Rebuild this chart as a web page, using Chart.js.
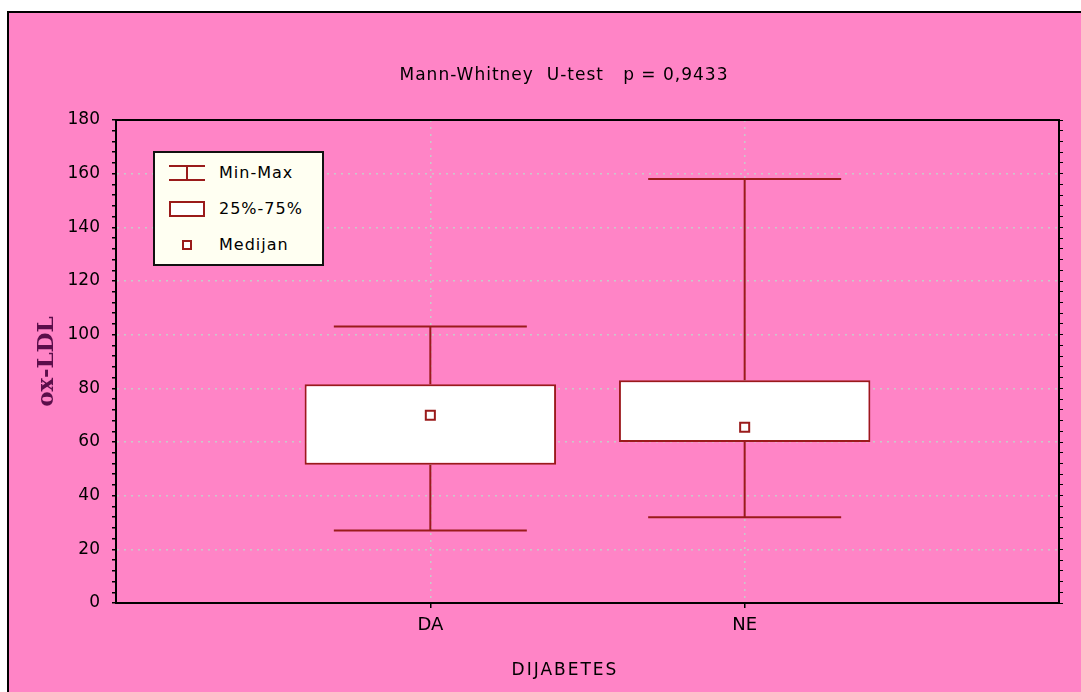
<!DOCTYPE html>
<html>
<head>
<meta charset="utf-8">
<script src="https://cdn.jsdelivr.net/npm/chart.js@4"></script>
<style>
  html, body { margin: 0; background: #ffffff; width: 1081px; height: 692px; overflow: hidden; font-family: "DejaVu Sans", sans-serif; }
  #panel { position: absolute; left: 7px; top: 11px; width: 1090px; height: 700px; background: #ff84c6;
           border-top: 2px solid #000; border-left: 2px solid #000; }
  #chartBox { position: absolute; left: 0; top: 0; width: 1072px; height: 679px; }
  .txt { position: absolute; color: #000; white-space: pre; transform: translateX(-50%); }
  #legend { position: absolute; left: 144px; top: 138px; width: 167px; height: 111px; background: #fffff2;
            border: 2px solid #111; }
  .row { position: absolute; left: 0; height: 20px; font-size: 16px; letter-spacing: 1px; }
  .row svg { position: absolute; left: 12px; top: 0; }
  .row span { position: absolute; left: 64px; top: 0px; white-space: pre; }
</style>
</head>
<body>
<div id="panel">
  <div id="chartBox"><canvas id="myChart" width="1072" height="679"></canvas></div>
  <div class="txt" id="title" style="left:555px; top:51px; font-size:17px; letter-spacing:1px;">Mann-Whitney  U-test   p = 0,9433</div>
  <div class="txt" id="xTitle" style="left:556px; top:646px; font-size:17px; letter-spacing:2px;">DIJABETES</div>
  <div id="legend">
    <div class="row" style="top:10px;">
      <svg width="40" height="20"><path d="M2 3 H38 M2 17 H38 M20 3 V17" stroke="#9a1b1b" stroke-width="2" fill="none"/></svg>
      <span>Min-Max</span>
    </div>
    <div class="row" style="top:46px;">
      <svg width="40" height="20"><rect x="3" y="3" width="34" height="14" fill="#fff" stroke="#9a1b1b" stroke-width="2"/></svg>
      <span>25%-75%</span>
    </div>
    <div class="row" style="top:82px;">
      <svg width="40" height="20"><rect x="16" y="6" width="8" height="8" fill="#fff" stroke="#9a1b1b" stroke-width="2"/></svg>
      <span>Medijan</span>
    </div>
  </div>
</div>
<script>
const categories = ['DA', 'NE'];
const minVals = [27, 32];
const q1Vals = [51.5, 60];
const medianVals = [70, 65.5];
const q3Vals = [81.5, 83];
const maxVals = [103, 158];
const yTicks = [0, 20, 40, 60, 80, 100, 120, 140, 160, 180];

const boxColor = '#9a1b1b';
const capHalf = 0.307;

// build datasets from the arrays
var boxData = [], whiskerData = [], capData = [], medianData = [];
for (var i = 0; i < categories.length; i++) {
    var x = i + 1;
    boxData.push({x: x, y: [q1Vals[i], q3Vals[i]]});
    whiskerData.push({x: x, y: minVals[i]}, {x: x, y: q1Vals[i]}, {x: x, y: null});
    whiskerData.push({x: x, y: q3Vals[i]}, {x: x, y: maxVals[i]}, {x: x, y: null});
    capData.push({x: x - capHalf, y: minVals[i]}, {x: x + capHalf, y: minVals[i]}, {x: x, y: null});
    capData.push({x: x - capHalf, y: maxVals[i]}, {x: x + capHalf, y: maxVals[i]}, {x: x, y: null});
    medianData.push({x: x, y: medianVals[i]});
}

const ctx = document.getElementById('myChart');
const dotted = '#c9c9c9';

const myChart = new Chart(ctx, {
    type: 'scatter',
    data: {
        datasets: [{
            type: 'scatter',
            data: medianData,
            pointStyle: 'rect',
            pointRadius: 6.4,
            pointBorderWidth: 2,
            pointBackgroundColor: '#ffffff',
            pointBorderColor: boxColor,
            order: 0
        }, {
            type: 'bar',
            data: boxData,
            backgroundColor: '#ffffff',
            borderColor: boxColor,
            borderWidth: 2,
            borderSkipped: false,
            categoryPercentage: 1,
            barPercentage: 0.8,
            order: 1
        }, {
            type: 'line',
            data: whiskerData,
            borderColor: boxColor,
            borderWidth: 2,
            pointRadius: 0,
            spanGaps: false,
            order: 2
        }, {
            type: 'line',
            data: capData,
            borderColor: boxColor,
            borderWidth: 2,
            pointRadius: 0,
            spanGaps: false,
            order: 2
        }]
    },
    options: {
        responsive: false,
        animation: false,
        layout: { padding: 0 },
        plugins: {
            legend: { display: false },
            tooltip: { enabled: false },
            title: { display: false }
        },
        scales: {
            x: {
                type: 'linear',
                position: 'bottom',
                min: 0,
                max: 3,
                offset: false,
                afterFit: function(scale) { scale.height = 89; },
                ticks: {
                    stepSize: 1,
                    autoSkip: false,
                    maxRotation: 0,
                    padding: 7,
                    color: '#000',
                    font: { family: 'DejaVu Sans', size: 18 },
                    callback: function(v) { return categories[v - 1] || ''; }
                },
                grid: {
                    offset: false,
                    tickLength: 5,
                    lineWidth: 1.5,
                    color: function(c) { return (c.tick && c.tick.value > 0 && c.tick.value < 3) ? dotted : 'rgba(0,0,0,0)'; },
                    tickColor: function(c) { return (c.tick && c.tick.value > 0 && c.tick.value < 3) ? '#000' : 'rgba(0,0,0,0)'; }
                },
                border: { display: true, color: '#000', width: 2, dash: [2, 5] }
            },
            x2: {
                type: 'linear',
                position: 'top',
                min: 0,
                max: 3,
                afterFit: function(scale) { scale.height = 107; },
                ticks: { display: false },
                grid: { drawOnChartArea: false, drawTicks: false },
                border: { display: true, color: '#000', width: 2 }
            },
            y: {
                min: 0,
                max: 180,
                afterFit: function(scale) { scale.width = 107; },
                afterBuildTicks: function(scale) {
                    var t = [];
                    for (var v = 0; v <= 180; v += 4) t.push({value: v});
                    scale.ticks = t;
                },
                ticks: {
                    padding: 12,
                    autoSkip: false,
                    color: '#000',
                    font: { family: 'DejaVu Sans', size: 17 },
                    callback: function(v) { return yTicks.indexOf(v) >= 0 ? String(v) : ''; }
                },
                grid: {
                    tickLength: 4,
                    lineWidth: 1.5,
                    color: function(c) { return (c.tick && c.tick.value % 20 === 0 && c.tick.value > 0 && c.tick.value < 180) ? dotted : 'rgba(0,0,0,0)'; },
                    tickColor: '#000'
                },
                border: { display: true, color: '#000', width: 2, dash: [2, 5] },
                title: {
                    display: true,
                    text: 'ox-LDL',
                    color: '#5a0e4a',
                    font: { family: 'DejaVu Serif', size: 23, weight: 'bold' },
                    padding: { top: 24, bottom: 0 }
                }
            },
            y2: {
                position: 'right',
                min: 0,
                max: 180,
                afterFit: function(scale) { scale.width = 22; },
                afterBuildTicks: function(scale) {
                    var t = [];
                    for (var v = 0; v <= 180; v += 4) t.push({value: v});
                    scale.ticks = t;
                },
                ticks: { display: false },
                grid: { drawOnChartArea: false, tickLength: 4, tickColor: '#000' },
                border: { display: true, color: '#000', width: 2 }
            }
        }
    }
});
</script>
</body>
</html>
